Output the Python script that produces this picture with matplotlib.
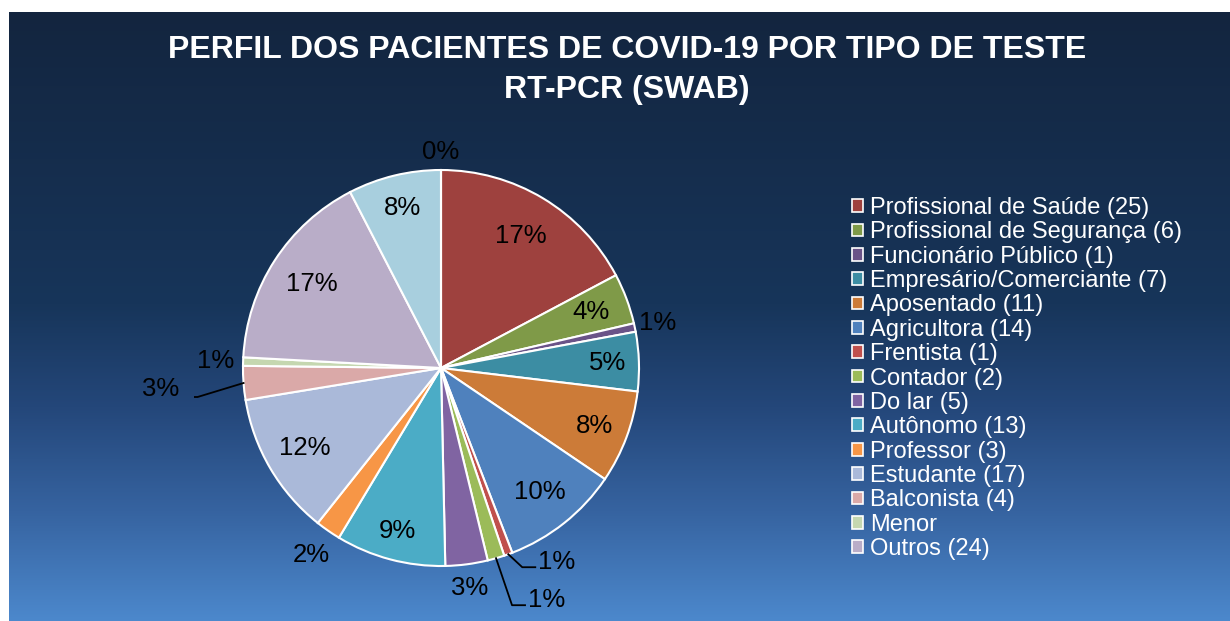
import numpy as np
import matplotlib
matplotlib.use('Agg')
import matplotlib.pyplot as plt
from matplotlib.colors import LinearSegmentedColormap
from matplotlib.patches import Patch

plt.rcParams['font.family'] = ['Liberation Sans', 'DejaVu Sans']

# Dados
categorias = ['Profissional de Saúde (25)', 'Profissional de Segurança (6)',
              'Funcionário Público (1)', 'Empresário/Comerciante (7)',
              'Aposentado (11)', 'Agricultora (14)', 'Frentista (1)',
              'Contador (2)', 'Do lar (5)', 'Autônomo (13)', 'Professor (3)',
              'Estudante (17)', 'Balconista (4)', 'Menor', 'Outros (24)', '', '']
valores = [25, 6, 1, 7, 11, 14, 1, 2, 5, 13, 3, 17, 4, 1, 24, 11, 0]
cores = ['#9E413E', '#7F9A48', '#6A5388', '#3C8DA3', '#CC7B38', '#4F81BD',
         '#C0504D', '#9BBB59', '#8064A2', '#4BACC6', '#F79646', '#AAB9D9',
         '#DAA9A8', '#C5D7B0', '#B9ADC8', '#A8CFDE', '#F9C09A']

# distância dos rótulos (None = rótulo com linha de chamada)
dist_rotulo = [0.78, 0.81, 1.12, 0.84, 0.83, 0.80, None, None, 1.12, 0.85,
               1.15, 0.80, None, 1.14, 0.78, 0.83, 1.09]
# linhas de chamada: (canto, fim, texto, alinhamento) em px relativos à borda
chamadas = {
    6: ((14, -13), (27, -13), (30, -8), 'left'),
    7: ((16, -47), (29, -47), (32, -42), 'left'),
    12: ((-46, -14), (-59, -14), (-64, -6), 'right'),
}

W, H = 1230, 621
fig = plt.figure(figsize=(W / 100, H / 100), dpi=100, facecolor='white')

# fundo em degradê
bg = fig.add_axes([9 / W, 0, (W - 9) / W, (H - 12) / H])
cmap = LinearSegmentedColormap.from_list('fundo', [
    (0.0, '#13253F'), (0.48, '#17355A'), (0.65, '#24477A'),
    (0.82, '#3663A0'), (1.0, '#4C88CC')])
grad = np.linspace(0, 1, 256).reshape(-1, 1)
bg.imshow(grad, aspect='auto', cmap=cmap, extent=[0, 1, 1, 0])
bg.set_axis_off()

# título
fig.text(627 / W, 1 - 70 / H,
         'PERFIL DOS PACIENTES DE COVID-19 POR TIPO DE TESTE\nRT-PCR (SWAB)',
         ha='center', va='center', color='white', fontsize=23,
         fontweight='bold', linespacing=1.42)

# pizza
R = 198
lim = 1.25
cx, cy = 441, 368
ax = fig.add_axes([(cx - lim * R) / W, (H - cy - lim * R) / H,
                   2 * lim * R / W, 2 * lim * R / H])
ax.set_xlim(-lim, lim)
ax.set_ylim(-lim, lim)
ax.set_axis_off()

wedges, _ = ax.pie(valores, colors=cores, startangle=90, counterclock=False,
                   radius=1, wedgeprops=dict(edgecolor='white', linewidth=1.5))

total = sum(valores)
for i, w in enumerate(wedges):
    pct = f'{round(100 * valores[i] / total):.0f}%'
    ang = np.deg2rad((w.theta1 + w.theta2) / 2)
    if dist_rotulo[i] is not None:
        d = dist_rotulo[i]
        ax.text(d * np.cos(ang), d * np.sin(ang), pct, ha='center',
                va='center', fontsize=18.5, color='black')
    else:
        ex, ey = np.cos(ang), np.sin(ang)
        canto, fim, txt, ha = chamadas[i]
        xs = [ex, ex + canto[0] / R, ex + fim[0] / R]
        ys = [ey, ey + canto[1] / R, ey + fim[1] / R]
        ax.plot(xs, ys, color='black', lw=1.3)
        ax.text(ex + txt[0] / R, ey + txt[1] / R, pct, ha=ha, va='center',
                fontsize=18.5, color='black')

# legenda
handles = [Patch(facecolor=cores[i], edgecolor='white', linewidth=1.2)
           for i in range(15)]
leg = fig.legend(handles, categorias[:15], loc='upper left',
                 bbox_to_anchor=(852 / W, 1 - 197 / H), frameon=False,
                 fontsize=17, labelcolor='white', handlelength=0.45,
                 handleheight=0.45, handletextpad=0.33, labelspacing=0.1,
                 borderaxespad=0, borderpad=0)

fig.savefig('out.png', dpi=100, facecolor='white')
